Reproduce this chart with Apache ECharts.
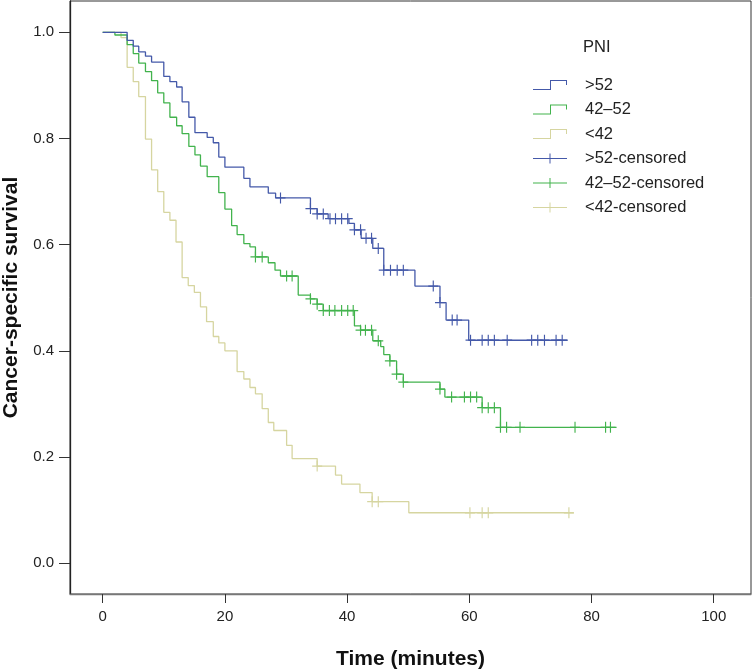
<!DOCTYPE html>
<html>
<head>
<meta charset="utf-8">
<script src="https://cdn.jsdelivr.net/npm/echarts@6/dist/echarts.min.js"></script>
<style>
html,body{margin:0;padding:0;background:#fff;}
#chart{width:752px;height:672px;}
</style>
</head>
<body>
<div id="chart"></div>
<script>
// ----- Data (Kaplan–Meier steps: time of drop, survival after drop) -----
const xTicks = [0, 20, 40, 60, 80, 100];
const yTicks = [0.0, 0.2, 0.4, 0.6, 0.8, 1.0];

const groupNames = ['>52', '42–52', '<42'];

const blueTimes = [0, 4.0, 5.0, 5.9, 7.0, 8.0, 10.0, 11.0, 12.1, 13.0, 14.1, 15.1, 17.1, 18.1, 19.0, 20.0, 23.1, 24.1, 27.1, 28.3, 34.0, 35.1, 36.9, 40.3, 41.2, 42.3, 44.2, 46.0, 51.1, 55.2, 56.2, 59.9];
const blueSurv  = [1.0, 0.985, 0.974, 0.963, 0.955, 0.944, 0.917, 0.907, 0.897, 0.869, 0.840, 0.811, 0.802, 0.792, 0.765, 0.746, 0.725, 0.709, 0.697, 0.688, 0.668, 0.658, 0.649, 0.640, 0.628, 0.612, 0.593, 0.552, 0.522, 0.491, 0.458, 0.420];
const blueEnd = 76.1;
const blueCensor = [29.1, 34.0, 35.1, 36.1, 37.2, 38.1, 39.1, 40.1, 41.2, 42.2, 43.1, 44.0, 45.1, 46.0, 47.1, 48.2, 49.2, 54.1, 55.2, 57.2, 58.0, 60.2, 62.1, 63.1, 64.1, 66.2, 70.2, 71.2, 72.3, 74.2, 75.2];

const greenTimes = [0, 2.0, 4.0, 5.0, 5.9, 7.0, 8.0, 9.0, 10.0, 11.0, 12.1, 13.0, 14.1, 15.1, 16.0, 17.1, 19.0, 20.0, 21.1, 22.0, 23.1, 24.1, 25.0, 27.1, 28.2, 29.1, 32.0, 34.0, 35.1, 36.1, 41.2, 42.2, 44.2, 45.5, 46.0, 47.0, 48.1, 49.2, 55.2, 56.0, 62.1, 65.1];
const greenSurv  = [1.0, 0.995, 0.977, 0.960, 0.942, 0.926, 0.909, 0.886, 0.867, 0.840, 0.824, 0.809, 0.785, 0.769, 0.748, 0.728, 0.698, 0.667, 0.636, 0.619, 0.602, 0.596, 0.577, 0.566, 0.552, 0.541, 0.505, 0.498, 0.488, 0.476, 0.447, 0.439, 0.419, 0.408, 0.393, 0.381, 0.356, 0.341, 0.328, 0.313, 0.293, 0.256];
const greenEnd = 84.1;
const greenCensor = [25.0, 26.1, 30.1, 31.0, 34.0, 35.1, 36.1, 37.1, 38.0, 39.1, 40.1, 41.0, 42.2, 43.0, 44.0, 45.1, 47.0, 48.1, 49.2, 55.2, 57.1, 59.2, 60.2, 61.2, 62.1, 63.1, 64.1, 65.1, 66.1, 68.3, 77.3, 82.3, 83.1];

const yellowTimes = [0, 3.0, 4.0, 5.0, 5.9, 7.0, 8.0, 9.0, 10.0, 11.0, 12.0, 13.0, 14.0, 15.0, 16.0, 17.0, 18.1, 19.0, 20.0, 22.0, 23.1, 24.1, 25.0, 26.1, 27.1, 28.0, 30.1, 31.0, 35.1, 38.1, 39.1, 42.1, 44.1, 50.1];
const yellowSurv  = [1.0, 0.990, 0.934, 0.907, 0.879, 0.799, 0.741, 0.700, 0.661, 0.646, 0.605, 0.538, 0.523, 0.510, 0.483, 0.455, 0.427, 0.415, 0.400, 0.361, 0.347, 0.331, 0.319, 0.291, 0.265, 0.250, 0.222, 0.197, 0.183, 0.166, 0.149, 0.133, 0.116, 0.095];
const yellowEnd = 77.1;
const yellowCensor = [35.1, 44.1, 45.1, 60.1, 62.1, 63.1, 76.3];

const colors = ['#4459a9', '#42b34d', '#d6d5a0'];

// ----- helpers -----
function stepData(times, surv, end) {
  const d = times.map((t, i) => [t, surv[i]]);
  d.push([end, surv[surv.length - 1]]);
  return d;
}
function censorData(times, surv, cens) {
  return cens.map(c => {
    let v = surv[0];
    for (let i = 0; i < times.length; i++) if (times[i] <= c + 1e-9) v = surv[i];
    return [c, v];
  });
}

const curves = [
  stepData(blueTimes, blueSurv, blueEnd),
  stepData(greenTimes, greenSurv, greenEnd),
  stepData(yellowTimes, yellowSurv, yellowEnd)
];
const censors = [
  censorData(blueTimes, blueSurv, blueCensor),
  censorData(greenTimes, greenSurv, greenCensor),
  censorData(yellowTimes, yellowSurv, yellowCensor)
];

const stepIcon = 'path://M0,18H34V0H68V10H66V2H36V20H0Z';
const crossIcon = 'path://M0,9H33V0H35V20H33V11H0ZM35,9H68V11H35Z';
const censorSymbol = 'path://M5,0V10M0,5H10';

const series = [];
[2, 1, 0].forEach(i => {
  series.push({
    name: groupNames[i], type: 'line', step: 'end', symbol: 'none',
    data: curves[i], z: 3 + (2 - i),
    lineStyle: { color: colors[i], width: 1.3 },
    itemStyle: { color: colors[i] }
  });
});
[2, 1, 0].forEach(i => {
  series.push({
    name: groupNames[i] + '-censored', type: 'scatter',
    data: censors[i], symbol: censorSymbol, symbolSize: [10, 11], z: 6,
    itemStyle: { color: 'none', borderColor: colors[i], borderWidth: 1.2, opacity: 1 }
  });
});

const legendData = [];
for (let i = 0; i < 3; i++) legendData.push({ name: groupNames[i], icon: stepIcon, itemStyle: { color: colors[i], borderWidth: 0 } });
for (let i = 0; i < 3; i++) legendData.push({ name: groupNames[i] + '-censored', icon: crossIcon, itemStyle: { color: colors[i], borderWidth: 0 } });

const font = 'Liberation Sans, Arial, sans-serif';
const chart = echarts.init(document.getElementById('chart'), null, { renderer: 'canvas' });
chart.setOption({
  animation: false,
  backgroundColor: '#fff',
  grid: { left: 70, right: 1, top: 1, bottom: 78, show: true, borderColor: '#333', borderWidth: 1,
    containLabel: false, outerBoundsMode: 'none' },
  xAxis: {
    type: 'value', min: -5.35, max: 106.1,
    name: 'Time (minutes)', nameLocation: 'middle', nameGap: 55,
    nameTextStyle: { fontFamily: font, fontWeight: 'bold', fontSize: 21, color: '#111' },
    axisLine: { show: true, onZero: false, lineStyle: { color: '#777', width: 1.3 } },
    axisTick: { show: true, length: 9, customValues: xTicks, lineStyle: { color: '#333' } },
    axisLabel: { customValues: xTicks, margin: 15, fontFamily: font, fontSize: 15, color: '#222' },
    splitLine: { show: false }
  },
  yAxis: {
    type: 'value', min: -0.058, max: 1.059,
    name: 'Cancer-specific survival', nameLocation: 'middle', nameGap: 48,
    nameTextStyle: { fontFamily: font, fontWeight: 'bold', fontSize: 21, color: '#111' },
    axisLine: { show: true, onZero: false, lineStyle: { color: '#222', width: 1.3 } },
    axisTick: { show: true, length: 11, customValues: yTicks, lineStyle: { color: '#333' } },
    axisLabel: { customValues: yTicks, margin: 16, fontFamily: font, fontSize: 15, color: '#222',
      formatter: v => v.toFixed(1) },
    splitLine: { show: false }
  },
  legend: {
    orient: 'vertical', left: 533, top: 76, padding: 0,
    itemWidth: 34, itemHeight: 10, itemGap: 6.5,
    data: legendData,
    selectedMode: false,
    textStyle: { fontFamily: font, fontSize: 16.5, color: '#222', lineHeight: 18, padding: [0, 0, 0, 13] }
  },
  graphic: [{
    type: 'text', left: 583, top: 39,
    style: { text: 'PNI', font: '16.5px ' + font, fill: '#222' }
  }],
  series: series
});
</script>
</body>
</html>
